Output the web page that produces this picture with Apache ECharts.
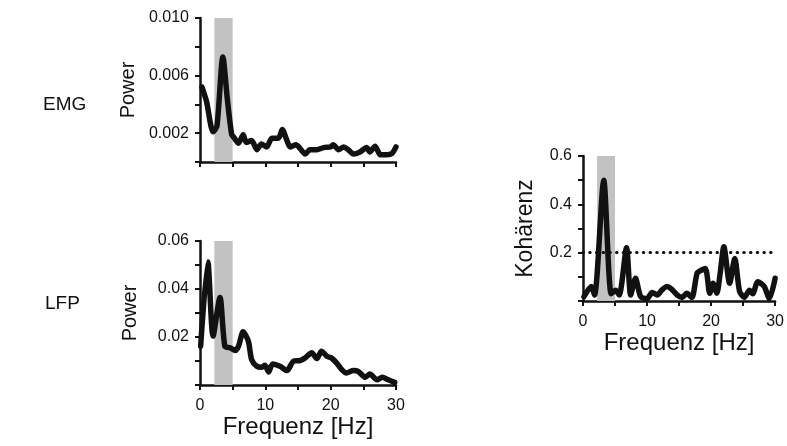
<!DOCTYPE html>
<html>
<head>
<meta charset="utf-8">
<script src="https://cdn.jsdelivr.net/npm/echarts@6/dist/echarts.min.js"></script>
<style>
  html, body { margin: 0; padding: 0; background: #fff; }
  #chart { width: 787px; height: 446px; }
</style>
</head>
<body>
<div id="chart"></div>
<script>
/* EMG Power */
var emgFreq = [0.3, 1.0, 2.0, 2.6, 3.5, 4.2, 4.85, 5.2, 5.9, 6.6, 7.1, 7.9, 8.7, 9.4, 10.2, 11.0, 12.0, 12.6, 13.3, 13.8,
               14.7, 15.3, 16.1, 16.8, 17.9, 18.9, 20.0, 20.4, 21.2, 22.0, 22.7, 23.5, 24.5, 25.5, 26.0, 26.8, 27.6, 28.6, 29.4, 30.0];
var emgPower = [0.0052, 0.0042, 0.0021, 0.0025, 0.0073, 0.0043, 0.0019, 0.0017, 0.0013, 0.0019, 0.00135, 0.0015, 0.00085, 0.00125,
                0.00105, 0.00165, 0.00165, 0.00225, 0.0015, 0.00105, 0.0012, 0.00095, 0.00055, 0.00085, 0.00085, 0.001, 0.00105,
                0.0012, 0.00085, 0.00105, 0.00085, 0.00055, 0.0007, 0.001, 0.0007, 0.0011, 0.0005, 0.0005, 0.0006, 0.00105];

/* LFP Power */
var lfpFreq = [0.1, 1.2, 2.0, 3.06, 3.8, 4.6, 5.4, 5.9, 6.6, 7.4, 7.9, 8.7, 9.4, 9.95, 10.5, 11.1, 12.25, 13.3, 14.3, 15.3,
               16.1, 17.1, 17.9, 18.6, 19.4, 20.1, 20.9, 21.7, 22.4, 23.5, 24.2, 25.3, 26.0, 27.1, 27.9, 28.8, 29.8];
var lfpPower = [0.0162, 0.0512, 0.0204, 0.0365, 0.0162, 0.0155, 0.0144, 0.0162, 0.0222, 0.0183, 0.0106, 0.0078, 0.0074, 0.0082,
                0.0054, 0.0088, 0.0078, 0.0060, 0.0099, 0.0102, 0.0113, 0.0134, 0.0110, 0.0141, 0.0120, 0.0113, 0.0092, 0.0064,
                0.0050, 0.0060, 0.0057, 0.0032, 0.0046, 0.0022, 0.0032, 0.0022, 0.0011];

/* Kohärenz */
var cohFreq = [0.15, 1.3, 1.8, 3.24, 4.4, 5.1, 5.65, 6.8, 7.45, 8.2, 9.0, 10.0, 10.8, 11.6, 12.3, 13.1, 13.8, 14.7, 15.5, 16.2,
               17.0, 17.8, 18.3, 19.1, 19.8, 20.3, 20.9, 21.4, 22.0, 22.9, 23.7, 24.45, 25.2, 26.0, 26.5, 27.3, 28.3, 29.1, 30.0];
var cohValue = [0.018, 0.06, 0.025, 0.5, 0.03, 0.045, 0.025, 0.22, 0.025, 0.094, 0.018, 0.01, 0.035, 0.025, 0.045, 0.06, 0.05,
                0.025, 0.015, 0.032, 0.015, 0.114, 0.125, 0.135, 0.032, 0.073, 0.032, 0.11, 0.224, 0.073, 0.176, 0.04, 0.015,
                0.045, 0.03, 0.08, 0.06, 0.01, 0.094];
var cohThreshold = 0.2;

/* Achsen */
var bandRange = [2.2, 5];
var xTickLabels = ['0', '10', '20', '30'];
var emgTickLabels = ['0.002', '0.006', '0.010'];
var lfpTickLabels = ['0.02', '0.04', '0.06'];
var cohTickLabels = ['0.2', '0.4', '0.6'];

function pairs(xs, ys){
    var out = [];
    for(var i = 0; i < xs.length; i++){
        out.push([xs[i], ys[i]]);
    }
    return out;
}

function pickLabel(list, digits){
    return function(v){
        var s = v.toFixed(digits);
        return list.indexOf(s) !== -1 ? s : '';
    };
}

var black = '#111';
var fontName = 'Liberation Sans, Arial, sans-serif';
var tickFont = { fontFamily: fontName, fontSize: 16, color: black };
var nameFont = { fontFamily: fontName, color: black };

function xAxisDef(idx, showLabels, withName, gap){
    return {
        type: 'value', gridIndex: idx, min: 0, max: 30, interval: 5,
        axisLine: { show: true, onZero: false, lineStyle: { color: black, width: 2.5 } },
        axisTick: { show: true, length: 5, lineStyle: { color: black, width: 2 } },
        splitLine: { show: false },
        axisLabel: Object.assign({ show: showLabels, margin: 13, formatter: pickLabel(xTickLabels, 0) }, tickFont),
        name: withName ? 'Frequenz [Hz]' : '',
        nameLocation: 'middle', nameGap: gap,
        nameTextStyle: Object.assign({ fontSize: 24 }, nameFont)
    };
}

function yAxisDef(idx, max, interval, labels, digits, name, gap, size){
    return {
        type: 'value', gridIndex: idx, min: 0, max: max, interval: interval,
        axisLine: { show: true, onZero: false, lineStyle: { color: black, width: 2.5 } },
        axisTick: { show: true, length: 5, lineStyle: { color: black, width: 2 } },
        splitLine: { show: false },
        axisLabel: Object.assign({ margin: 11, formatter: pickLabel(labels, digits) }, tickFont),
        name: name, nameLocation: 'middle', nameGap: gap,
        nameTextStyle: Object.assign({ fontSize: size }, nameFont)
    };
}

function band(){
    return {
        silent: true,
        itemStyle: { color: '#c2c2c2', opacity: 1 },
        data: [[{ xAxis: bandRange[0] }, { xAxis: bandRange[1] }]]
    };
}

function lineSeries(idx, data, extra){
    var s = {
        type: 'line', xAxisIndex: idx, yAxisIndex: idx,
        data: data, showSymbol: false, symbol: 'none', animation: false,
        smooth: 0.25,
        lineStyle: { color: black, width: 5.5, join: 'round', cap: 'round' },
        markArea: band()
    };
    return Object.assign(s, extra || {});
}

var chart = echarts.init(document.getElementById('chart'));
chart.setOption({
    backgroundColor: '#fff',
    animation: false,
    title: [
        { text: 'EMG', left: 38, top: 90, textStyle: { fontFamily: fontName, fontSize: 19, fontWeight: 'normal', color: black } },
        { text: 'LFP', left: 40, top: 289, textStyle: { fontFamily: fontName, fontSize: 19, fontWeight: 'normal', color: black } }
    ],
    grid: [
        { left: 200, top: 18, width: 196, height: 144 },
        { left: 200, top: 241, width: 196, height: 144 },
        { left: 583, top: 156, width: 195, height: 145 }
    ],
    xAxis: [
        xAxisDef(0, false, false, 0),
        xAxisDef(1, true, true, 29),
        xAxisDef(2, true, true, 25)
    ],
    yAxis: [
        yAxisDef(0, 0.010, 0.002, emgTickLabels, 3, 'Power', 62, 20),
        yAxisDef(1, 0.06, 0.01, lfpTickLabels, 2, 'Power', 60, 20),
        yAxisDef(2, 0.6, 0.1, cohTickLabels, 1, 'Kohärenz', 46, 23)
    ],
    series: [
        lineSeries(0, pairs(emgFreq, emgPower)),
        lineSeries(1, pairs(lfpFreq, lfpPower)),
        lineSeries(2, pairs(cohFreq, cohValue), {
            markLine: {
                silent: true, symbol: 'none', label: { show: false },
                lineStyle: { color: black, width: 3, type: [0.5, 6.2], cap: 'round' },
                data: [{ yAxis: cohThreshold }]
            }
        })
    ]
});
</script>
</body>
</html>
